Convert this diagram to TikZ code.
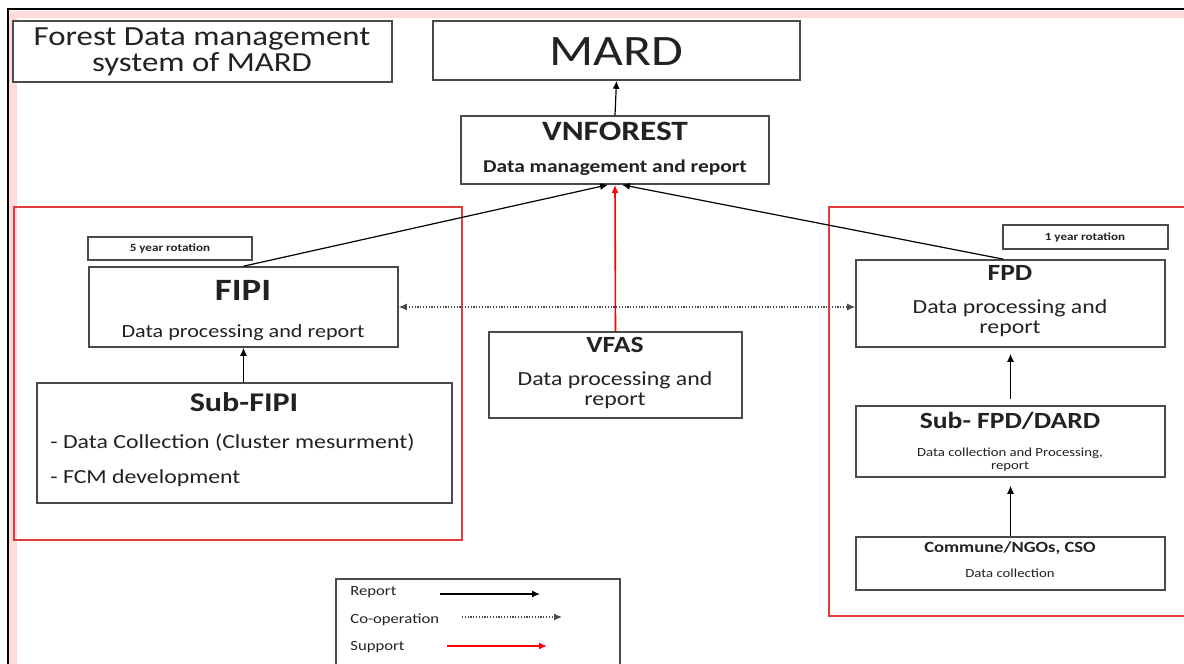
\documentclass[tikz,border=0pt]{standalone}
\usepackage{fontspec}
\setmainfont[FakeStretch=1.19]{Carlito}
\usetikzlibrary{fit,arrows.meta}
\definecolor{boxgray}{HTML}{4A4A4A}
\definecolor{frred}{HTML}{E23C3C}
\definecolor{glow}{HTML}{FFDCDC}
\definecolor{txtgray}{HTML}{222222}
\newcommand{\fsz}[1]{\fontsize{#1}{#1}\selectfont}
\begin{document}
\begin{tikzpicture}[x=0.5pt,y=-0.5pt,
  box/.style={draw=boxgray,line width=0.8pt,inner sep=0pt,fill=white},
  grp/.style={draw=frred,line width=0.8pt,inner sep=0pt},
  txt/.style={inner sep=0pt,anchor=base,text=txtgray},
  ltxt/.style={inner sep=0pt,anchor=base west,text=txtgray},
  rep/.style={draw=black,line width=0.6pt,-{Latex[length=4pt,width=3.5pt]}},
  coop/.style={draw=black!70,line width=0.6pt,dash pattern=on 0.6pt off 0.8pt,{Latex[length=4pt,width=3.5pt]}-{Latex[length=4pt,width=3.5pt]}},
  coopl/.style={draw=black!70,line width=0.6pt,dash pattern=on 0.6pt off 0.8pt,-{Latex[length=4pt,width=3.5pt]}},
  sup/.style={draw=red,line width=0.8pt,-{Latex[length=4pt,width=3.5pt]}}]
\useasboundingbox (0,0) rectangle (1184,664);
% outer frame
\fill[glow] (9,11) rectangle (1184,18);
\fill[glow] (9,11) rectangle (17,664);
\draw[line width=1.2pt] (8,664) -- (8,9) -- (1184,9);
% group frames
\node[grp,fit={(14,207)(462,540)}] (leftgrp) {};
\draw[grp] (1184,207) -- (829,207) -- (829,616) -- (1184,616);
% boxes
\node[box,fit={(13,21)(392,82)}] (title) {};
\node[box,fit={(433,21)(800,80)}] (mard) {};
\node[box,fit={(461,116)(769,184)}] (vnforest) {};
\node[box,fit={(88,237)(252,260)}] (rot5) {};
\node[box,fit={(89,267)(398,347)}] (fipi) {};
\node[box,fit={(37,383)(452,503)}] (subfipi) {};
\node[box,fit={(489,332)(742,418)}] (vfas) {};
\node[box,fit={(1003,225)(1168,249)}] (rot1) {};
\node[box,fit={(856,260)(1165,347)}] (fpd) {};
\node[box,fit={(856,406)(1165,477)}] (subfpd) {};
\node[box,fit={(856,537)(1165,590)}] (commune) {};
% texts
\node[txt,font=\fsz{13.8}] (t1) at (202,46) {Forest Data management};
\node[txt,font=\fsz{13.8}] (t2) at (202,71) {system of MARD};
\node[txt,font=\fsz{21.7}] (mardT) at (616,65) {MARD};
\node[txt,font=\bfseries\fsz{14}] (vnT) at (615,140) {VNFOREST};
\node[txt,font=\bfseries\fsz{9}] (vnS) at (615,172) {Data management and report};
\node[txt,font=\bfseries\fsz{5.5}] (r5T) at (170,251) {5 year rotation};
\node[txt,font=\bfseries\fsz{15.5}] (fipiT) at (243,300) {FIPI};
\node[txt,font=\fsz{9.3}] (fipiS) at (243,337) {Data processing and report};
\node[txt,font=\bfseries\fsz{13.5}] (sfT) at (244,411) {Sub-FIPI};
\node[ltxt,font=\fsz{10}] (sf1) at (50,448) {- Data Collection (Cluster mesurment)};
\node[ltxt,font=\fsz{10}] (sf2) at (50,483) {- FCM development};
\node[txt,font=\bfseries\fsz{11.6}] (vfasT) at (615,352) {VFAS};
\node[txt,font=\fsz{10}] (vfas1) at (615,385) {Data processing and};
\node[txt,font=\fsz{10}] (vfas2) at (615,405) {report};
\node[txt,font=\bfseries\fsz{5.5}] (r1T) at (1085,240) {1 year rotation};
\node[txt,font=\bfseries\fsz{11.6}] (fpdT) at (1010,280) {FPD};
\node[txt,font=\fsz{10}] (fpd1) at (1010,313) {Data processing and};
\node[txt,font=\fsz{10}] (fpd2) at (1010,333) {report};
\node[txt,font=\bfseries\fsz{11.6}] (sfpdT) at (1010,428) {Sub- FPD/DARD};
\node[txt,font=\fsz{6.2}] (sfpd1) at (1010,456) {Data collection and Processing,};
\node[txt,font=\fsz{6.2}] (sfpd2) at (1010,469) {report};
\node[txt,font=\bfseries\fsz{7.8}] (comT) at (1010,552) {Commune/NGOs, CSO};
\node[txt,font=\fsz{6.2}] (comS) at (1010,577) {Data collection};
% connectors
\draw[rep] (vnforest.north) -- (mard.south);
\draw[rep] (fipi.north) -- ([xshift=-3.5pt]vnforest.south);
\draw[rep] ([xshift=-3.5pt]fpd.north) -- ([xshift=3.5pt]vnforest.south);
\draw[sup] (vfas.north) -- (vnforest.south);
\draw[coop] (fipi.east) -- (fipi.east -| fpd.west);
\draw[rep] (subfipi.north -| fipi.south) -- (fipi.south);
\draw[rep] ([yshift=3pt]subfpd.north) -- ([yshift=-3pt]fpd.south);
\draw[rep] (commune.north) -- ([yshift=-4pt]subfpd.south);
% legend
\draw[draw=boxgray,line width=0.8pt] (336,664) -- (336,579) -- (620,579) -- (620,664);
\node[ltxt,font=\fsz{7}] (lrep) at (350,595) {Report};
\node[ltxt,font=\fsz{7}] (lcoop) at (350,623) {Co-operation};
\node[ltxt,font=\fsz{7}] (lsup) at (350,650) {Support};
\coordinate (la1) at (440,594); \coordinate (lb1) at (540,594);
\coordinate (la2) at (462,617); \coordinate (lb2) at (562,617);
\coordinate (la3) at (447,646); \coordinate (lb3) at (547,646);
\draw[rep] (la1) -- (lb1);
\draw[coopl] (la2) -- (lb2);
\draw[sup] (la3) -- (lb3);
\end{tikzpicture}
\end{document}
